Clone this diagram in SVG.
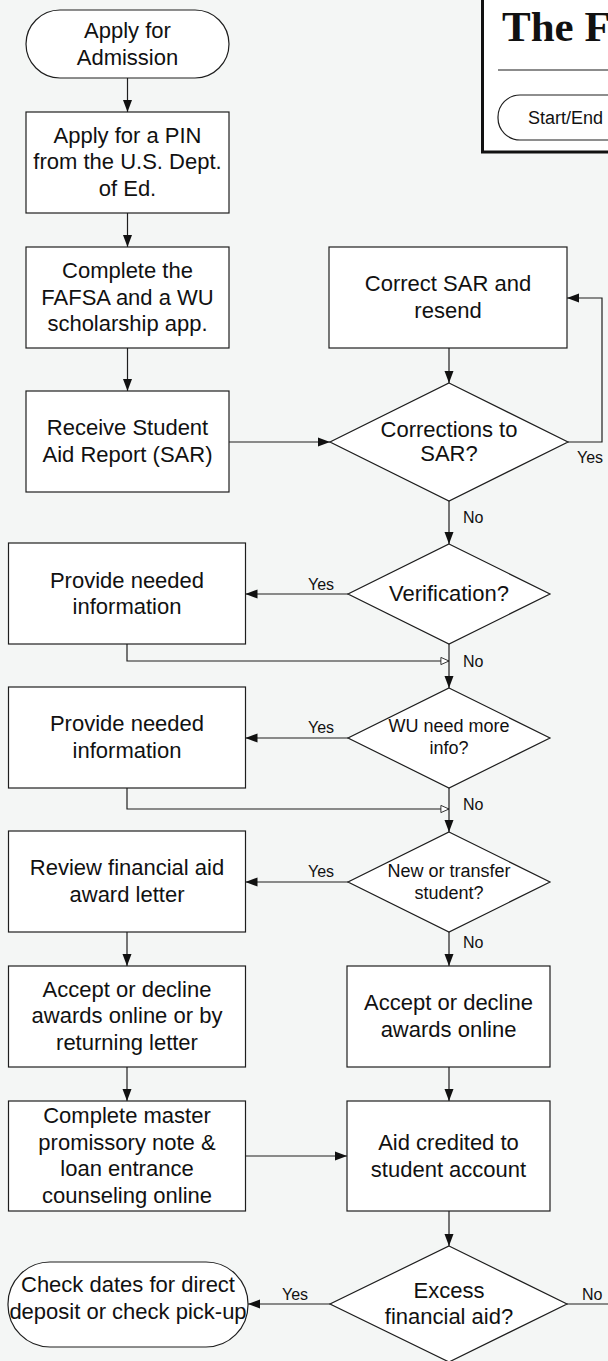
<svg xmlns="http://www.w3.org/2000/svg" width="608" height="1361" viewBox="0 0 608 1361">
<style>
.bg{fill:#f4f6f5}
.box{fill:#fff;stroke:#1e1e1e;stroke-width:1.2}
.c{fill:none;stroke:#1e1e1e;stroke-width:1.2}
.t{font-family:"Liberation Sans",Arial,sans-serif;font-size:22px;fill:#111;text-anchor:middle}
.s{font-size:18px}
.lbl{font-family:"Liberation Sans",Arial,sans-serif;font-size:16px;fill:#111}
</style>
<defs>
<marker id="arr" viewBox="0 0 12 10" refX="12" refY="5" markerWidth="12" markerHeight="10" orient="auto" markerUnits="userSpaceOnUse"><path d="M0,0.5 L12,5 L0,9.5 z" fill="#111"/></marker>
<marker id="open" viewBox="0 0 10 10" refX="10" refY="5" markerWidth="9" markerHeight="9" orient="auto" markerUnits="userSpaceOnUse"><path d="M1,1 L10,5 L1,9 z" fill="#fff" stroke="#1e1e1e" stroke-width="1"/></marker>
</defs>
<rect class="bg" x="0" y="0" width="608" height="1361"/>

<g id="legend">
<rect x="482.5" y="-5" width="140" height="157" fill="#fff" stroke="#111" stroke-width="3"/>
<text x="502" y="41" font-family="'Liberation Serif','Times New Roman',serif" font-weight="bold" font-size="43" fill="#111">The F</text>
<line x1="498" y1="70" x2="608" y2="70" stroke="#666" stroke-width="1.5"/>
<rect x="498" y="95" width="140" height="45" rx="22" fill="#fff" stroke="#1e1e1e" stroke-width="1.2"/>
<text x="528" y="124" font-family="'Liberation Sans',Arial,sans-serif" font-size="18" fill="#111">Start/End</text>
</g>

<g id="connectors">
<line class="c" x1="127.5" y1="78" x2="127.5" y2="112" marker-end="url(#arr)"/>
<line class="c" x1="127.5" y1="213" x2="127.5" y2="247" marker-end="url(#arr)"/>
<line class="c" x1="127.5" y1="348" x2="127.5" y2="391" marker-end="url(#arr)"/>
<line class="c" x1="229" y1="442" x2="330" y2="442" marker-end="url(#arr)"/>
<line class="c" x1="449" y1="348" x2="449" y2="383" marker-end="url(#arr)"/>
<polyline class="c" points="568,442 602,442 602,298 567,298" marker-end="url(#arr)"/>
<line class="c" x1="449" y1="501" x2="449" y2="544" marker-end="url(#arr)"/>
<line class="c" x1="348" y1="594" x2="245.5" y2="594" marker-end="url(#arr)"/>
<polyline class="c" points="127,644 127,661 449,661" marker-end="url(#open)"/>
<line class="c" x1="449" y1="644" x2="449" y2="688" marker-end="url(#arr)"/>
<line class="c" x1="348" y1="738" x2="245.5" y2="738" marker-end="url(#arr)"/>
<polyline class="c" points="127,788 127,809 449,809" marker-end="url(#open)"/>
<line class="c" x1="449" y1="788" x2="449" y2="832" marker-end="url(#arr)"/>
<line class="c" x1="348" y1="882" x2="245.5" y2="882" marker-end="url(#arr)"/>
<line class="c" x1="127" y1="932" x2="127" y2="966" marker-end="url(#arr)"/>
<line class="c" x1="449" y1="932" x2="449" y2="966" marker-end="url(#arr)"/>
<line class="c" x1="127" y1="1067" x2="127" y2="1101" marker-end="url(#arr)"/>
<line class="c" x1="449" y1="1067" x2="449" y2="1101" marker-end="url(#arr)"/>
<line class="c" x1="245.5" y1="1156" x2="347" y2="1156" marker-end="url(#arr)"/>
<line class="c" x1="449" y1="1211" x2="449" y2="1246" marker-end="url(#arr)"/>
<line class="c" x1="330" y1="1304" x2="248" y2="1304" marker-end="url(#arr)"/>
<line class="c" x1="567" y1="1304" x2="608" y2="1304"/>
<text class="lbl" x="577" y="463">Yes</text>
<text class="lbl" x="463" y="523">No</text>
<text class="lbl" x="308" y="590">Yes</text>
<text class="lbl" x="463" y="667">No</text>
<text class="lbl" x="308" y="733">Yes</text>
<text class="lbl" x="463" y="810">No</text>
<text class="lbl" x="308" y="877">Yes</text>
<text class="lbl" x="463" y="948">No</text>
<text class="lbl" x="282" y="1300">Yes</text>
<text class="lbl" x="582" y="1300">No</text>
</g>

<g id="n-start">
<rect class="box" x="26" y="10" width="203" height="68" rx="34"/>
<text class="t" x="127.5" y="38">Apply for</text>
<text class="t" x="127.5" y="64.5">Admission</text>
</g>
<g id="n-pin">
<rect class="box" x="26" y="112" width="203" height="101"/>
<text class="t" x="127.5" y="142.5">Apply for a PIN</text>
<text class="t" x="127.5" y="169">from the U.S. Dept.</text>
<text class="t" x="127.5" y="195.5">of Ed.</text>
</g>
<g id="n-fafsa">
<rect class="box" x="26" y="247" width="203" height="101"/>
<text class="t" x="127.5" y="278">Complete the</text>
<text class="t" x="127.5" y="304.5">FAFSA and a WU</text>
<text class="t" x="127.5" y="331">scholarship app.</text>
</g>
<g id="n-sar">
<rect class="box" x="26" y="391" width="203" height="101"/>
<text class="t" x="127.5" y="435">Receive Student</text>
<text class="t" x="127.5" y="461.5">Aid Report (SAR)</text>
</g>
<g id="n-correct">
<rect class="box" x="329" y="247" width="238" height="101"/>
<text class="t" x="448" y="291">Correct SAR and</text>
<text class="t" x="448" y="317.5">resend</text>
</g>
<g id="n-corrections">
<polygon class="box" points="449,383 568,442 449,501 330,442"/>
<text class="t" x="449" y="437">Corrections to</text>
<text class="t" x="449" y="461">SAR?</text>
</g>
<g id="n-verification">
<polygon class="box" points="449,544 550,594 449,644 348,594"/>
<text class="t" x="449" y="601">Verification?</text>
</g>
<g id="n-provide1">
<rect class="box" x="8.5" y="543" width="237" height="101"/>
<text class="t" x="127" y="587.5">Provide needed</text>
<text class="t" x="127" y="614">information</text>
</g>
<g id="n-wu">
<polygon class="box" points="449,688 550,738 449,788 348,738"/>
<text class="t s" x="449" y="732">WU need more</text>
<text class="t s" x="449" y="754">info?</text>
</g>
<g id="n-provide2">
<rect class="box" x="8.5" y="687" width="237" height="101"/>
<text class="t" x="127" y="731">Provide needed</text>
<text class="t" x="127" y="757.5">information</text>
</g>
<g id="n-new">
<polygon class="box" points="449,832 550,882 449,932 348,882"/>
<text class="t s" x="449" y="876.5">New or transfer</text>
<text class="t s" x="449" y="898.5">student?</text>
</g>
<g id="n-review">
<rect class="box" x="8.5" y="831" width="237" height="101"/>
<text class="t" x="127" y="875">Review financial aid</text>
<text class="t" x="127" y="901.5">award letter</text>
</g>
<g id="n-accept1">
<rect class="box" x="8.5" y="966" width="237" height="101"/>
<text class="t" x="127" y="996.5">Accept or decline</text>
<text class="t" x="127" y="1023">awards online or by</text>
<text class="t" x="127" y="1049.5">returning letter</text>
</g>
<g id="n-accept2">
<rect class="box" x="347" y="966" width="203" height="101"/>
<text class="t" x="448.5" y="1010">Accept or decline</text>
<text class="t" x="448.5" y="1036.5">awards online</text>
</g>
<g id="n-master">
<rect class="box" x="8.5" y="1101" width="237" height="110"/>
<text class="t" x="127" y="1123">Complete master</text>
<text class="t" x="127" y="1149.5">promissory note &amp;</text>
<text class="t" x="127" y="1176">loan entrance</text>
<text class="t" x="127" y="1202.5">counseling online</text>
</g>
<g id="n-credited">
<rect class="box" x="347" y="1101" width="203" height="110"/>
<text class="t" x="448.5" y="1150">Aid credited to</text>
<text class="t" x="448.5" y="1176.5">student account</text>
</g>
<g id="n-excess">
<polygon class="box" points="449,1246 567,1304 449,1362 330,1304"/>
<text class="t" x="449" y="1297.5">Excess</text>
<text class="t" x="449" y="1324">financial aid?</text>
</g>
<g id="n-check">
<rect class="box" x="8" y="1262" width="240" height="85" rx="42"/>
<text class="t" x="128" y="1292">Check dates for direct</text>
<text class="t" x="128" y="1318.5">deposit or check pick-up</text>
</g>
</svg>
